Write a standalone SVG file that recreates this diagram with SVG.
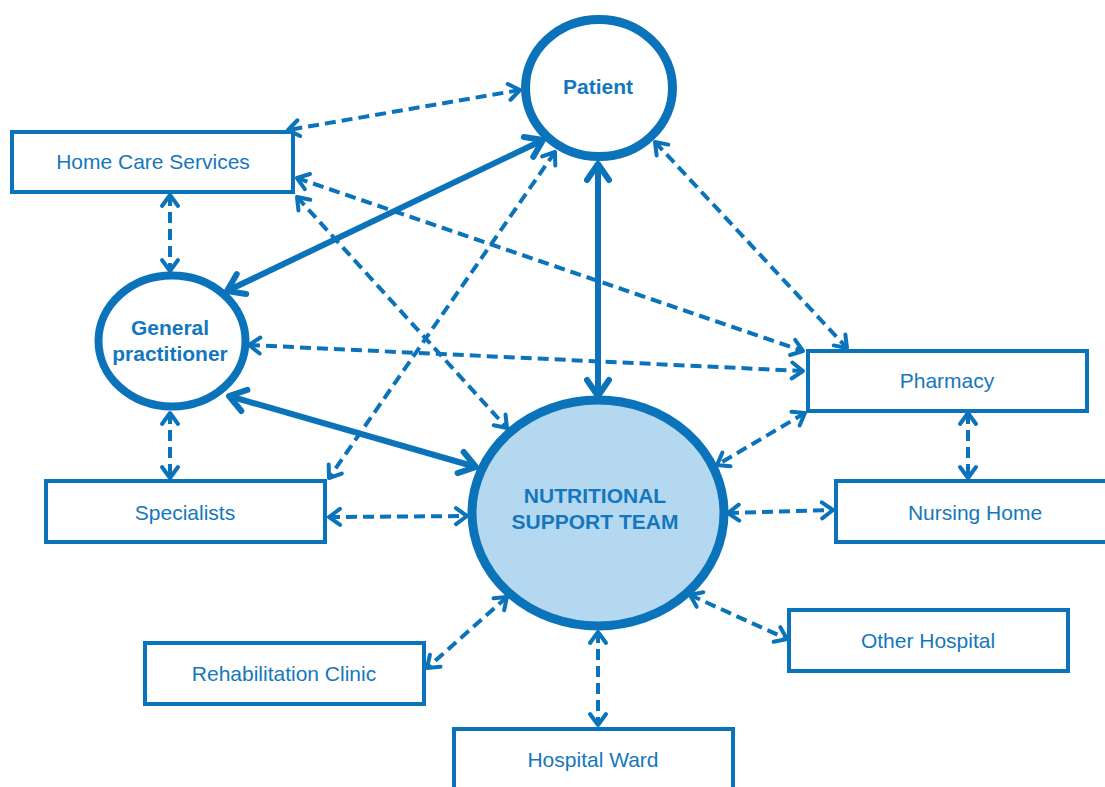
<svg xmlns="http://www.w3.org/2000/svg" width="1105" height="787" viewBox="0 0 1105 787">
<defs>
<style>
.box{fill:#fff;stroke:#0b73ba;stroke-width:4}
.circ{fill:#fff;stroke:#0b73ba}
.lbl{font-family:"Liberation Sans",Arial,sans-serif;font-size:21px;fill:#1477bd;text-anchor:middle}
.bold{font-weight:bold}
.d{fill:none;stroke:#0b73ba;stroke-width:4;stroke-dasharray:11 6;marker-start:url(#ad);marker-end:url(#ad)}
.s{fill:none;stroke:#0b73ba;stroke-width:6;marker-start:url(#as);marker-end:url(#as)}
</style>
<marker id="ad" viewBox="-16 -11 20 22" refX="0" refY="0" markerWidth="20" markerHeight="22" markerUnits="userSpaceOnUse" orient="auto-start-reverse">
<path d="M-11,-8 L0,0 L-11,8" fill="none" stroke="#0b73ba" stroke-width="4" stroke-linecap="round" stroke-linejoin="round"/>
</marker>
<marker id="as" viewBox="-22 -15 26 30" refX="0" refY="0" markerWidth="26" markerHeight="30" markerUnits="userSpaceOnUse" orient="auto-start-reverse">
<path d="M-16,-11 L0,0 L-16,11" fill="none" stroke="#0b73ba" stroke-width="6" stroke-linecap="round" stroke-linejoin="round"/>
</marker>
</defs>
<rect width="1105" height="787" fill="#fff"/>
<g id="connectors">
<line class="d" x1="520" y1="90" x2="288" y2="130"/>
<line class="s" x1="543" y1="140" x2="227" y2="291"/>
<line class="s" x1="598" y1="164" x2="598" y2="396"/>
<line class="d" x1="555" y1="152" x2="329" y2="478"/>
<line class="d" x1="655" y1="142" x2="847" y2="348"/>
<line class="d" x1="170" y1="195" x2="170" y2="271"/>
<line class="d" x1="297" y1="178" x2="803" y2="351"/>
<line class="d" x1="297" y1="197" x2="507" y2="428"/>
<line class="d" x1="249" y1="345" x2="803" y2="371"/>
<line class="s" x1="229" y1="396" x2="476" y2="467"/>
<line class="d" x1="170" y1="413" x2="170" y2="478"/>
<line class="d" x1="329" y1="517" x2="467" y2="516"/>
<line class="d" x1="968" y1="413" x2="968" y2="478"/>
<line class="d" x1="805" y1="413" x2="717" y2="465"/>
<line class="d" x1="728" y1="513" x2="833" y2="510"/>
<line class="d" x1="507" y1="597" x2="427" y2="668"/>
<line class="d" x1="690" y1="595" x2="787" y2="639"/>
<line class="d" x1="598" y1="632" x2="598" y2="725"/>
</g>
<g id="patient">
<ellipse class="circ" cx="599" cy="88" rx="73.5" ry="68.5" stroke-width="9"/>
<text class="lbl bold" x="598" y="94" font-size="22">Patient</text>
</g>
<g id="home-care">
<rect class="box" x="12" y="132" width="281" height="60"/>
<text class="lbl" x="153" y="169">Home Care Services</text>
</g>
<g id="gp">
<ellipse class="circ" cx="172" cy="341" rx="73.5" ry="65.5" stroke-width="8"/>
<text class="lbl bold" x="170" y="335">General</text>
<text class="lbl bold" x="170" y="361">practitioner</text>
</g>
<g id="pharmacy">
<rect class="box" x="808" y="351" width="279" height="60"/>
<text class="lbl" x="947" y="388">Pharmacy</text>
</g>
<g id="specialists">
<rect class="box" x="46" y="481" width="279" height="61"/>
<text class="lbl" x="185" y="520">Specialists</text>
</g>
<g id="nst">
<ellipse cx="598" cy="513" rx="126" ry="113" fill="#b4d8f0" stroke="#0b73ba" stroke-width="9"/>
<text class="lbl bold" x="595" y="503">NUTRITIONAL</text>
<text class="lbl bold" x="595" y="529">SUPPORT TEAM</text>
</g>
<g id="nursing-home">
<rect class="box" x="836" y="481" width="280" height="61"/>
<text class="lbl" x="975" y="520">Nursing Home</text>
</g>
<g id="rehab">
<rect class="box" x="145" y="643" width="279" height="61"/>
<text class="lbl" x="284" y="681">Rehabilitation Clinic</text>
</g>
<g id="other-hospital">
<rect class="box" x="789" y="610" width="279" height="61"/>
<text class="lbl" x="928" y="648">Other Hospital</text>
</g>
<g id="hospital-ward">
<rect class="box" x="454" y="729" width="279" height="70"/>
<text class="lbl" x="593" y="767">Hospital Ward</text>
</g>
</svg>
